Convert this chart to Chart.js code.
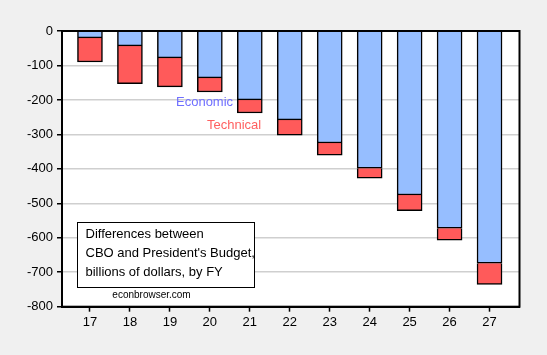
<!DOCTYPE html>
<html>
<head>
<meta charset="utf-8">
<script src="https://cdn.jsdelivr.net/npm/chart.js@4/dist/chart.umd.min.js"></script>
<style>
html,body{margin:0;padding:0;background:#f0f0f0;}
#wrap{width:547px;height:355px;position:relative;}
</style>
</head>
<body>
<div id="wrap"><canvas id="c" width="547" height="355"></canvas></div>
<script>
const years = [17,18,19,20,21,22,23,24,25,26,27];
const economic = [-20,-43,-78,-136,-200,-258,-325,-398,-476,-572,-674];
const technical = [-70,-110,-84,-41,-38,-44,-35,-29,-45,-35,-61];
const yTicks = [0,-100,-200,-300,-400,-500,-600,-700,-800];
const labelEconomic = "Economic";
const labelTechnical = "Technical";
const boxLines = ["Differences between","CBO and President's Budget,","billions of dollars, by FY"];
const credit = "econbrowser.com";

const FONT = "'Liberation Sans', Arial, sans-serif";

const decor = {
  id:'decor',
  beforeDraw(chart){
    const {ctx, chartArea:a} = chart;
    ctx.save();
    ctx.fillStyle = '#f0f0f0';
    ctx.fillRect(0,0,chart.width,chart.height);
    ctx.fillStyle = '#ffffff';
    ctx.fillRect(a.left,a.top,a.right-a.left,a.bottom-a.top);
    ctx.restore();
  },
  afterDraw(chart){
    const {ctx, chartArea:a} = chart;
    ctx.save();
    ctx.strokeStyle = '#000';
    ctx.lineWidth = 2;
    ctx.strokeRect(a.left, a.top, a.right-a.left, a.bottom-a.top);
    ctx.textBaseline = 'middle';
    ctx.textAlign = 'left';
    ctx.font = '13px ' + FONT;
    ctx.fillStyle = '#6f6fff';
    ctx.fillText(labelEconomic, 176, 102);
    ctx.fillStyle = '#ff5f5f';
    ctx.fillText(labelTechnical, 207, 125.5);
    ctx.fillStyle = '#fff';
    ctx.fillRect(77.5, 222.5, 177, 65);
    ctx.strokeStyle = '#000';
    ctx.lineWidth = 1;
    ctx.strokeRect(77.5, 222.5, 177, 65);
    ctx.fillStyle = '#000';
    ctx.font = '13px ' + FONT;
    boxLines.forEach((t,i)=>ctx.fillText(t, 85.5, 234.5 + i*19));
    ctx.font = '10px ' + FONT;
    ctx.textAlign = 'center';
    ctx.fillText(credit, 151.5, 295.5);
    ctx.restore();
  }
};

new Chart(document.getElementById('c'), {
  type:'bar',
  data:{
    datasets:[
      {label:'Economic', data: years.map((y,i)=>({x:y,y:economic[i]})), backgroundColor:'#96beff', borderColor:'#000', borderWidth:1.5, borderSkipped:'start', barThickness:25},
      {label:'Technical', data: years.map((y,i)=>({x:y,y:technical[i]})), backgroundColor:'#ff5a5a', borderColor:'#000', borderWidth:1.5, borderSkipped:'start', barThickness:25}
    ]
  },
  options:{
    responsive:false,
    animation:false,
    layout:{padding:{left:0,top:31,right:27.5,bottom:0}},
    plugins:{legend:{display:false},tooltip:{enabled:false}},
    scales:{
      x:{
        type:'linear', stacked:true, min:16.3, max:27.75, offset:false,
        afterFit(s){ s.height = 48.3; },
        afterBuildTicks(s){ s.ticks = years.map(v=>({value:v})); },
        ticks:{color:'#000', font:{family:FONT,size:13}, padding:3, callback:v=>String(v), maxRotation:0, autoSkip:false},
        grid:{offset:false, drawOnChartArea:false, drawTicks:true, tickLength:5, tickColor:'#000', tickWidth:1.5},
        border:{display:true,color:'#000',width:2}
      },
      y:{
        stacked:true, min:-800, max:0,
        afterFit(s){ s.width = 62; },
        afterBuildTicks(s){ s.ticks = yTicks.map(v=>({value:v})); },
        ticks:{color:'#000', font:{family:FONT,size:13}, padding:4, autoSkip:false},
        grid:{color:'#cfcfcf', lineWidth:1.5, drawTicks:true, tickLength:5, tickColor:'#000', tickWidth:1.5},
        border:{display:true,color:'#000',width:2}
      }
    }
  },
  plugins:[decor]
});
</script>
</body>
</html>
